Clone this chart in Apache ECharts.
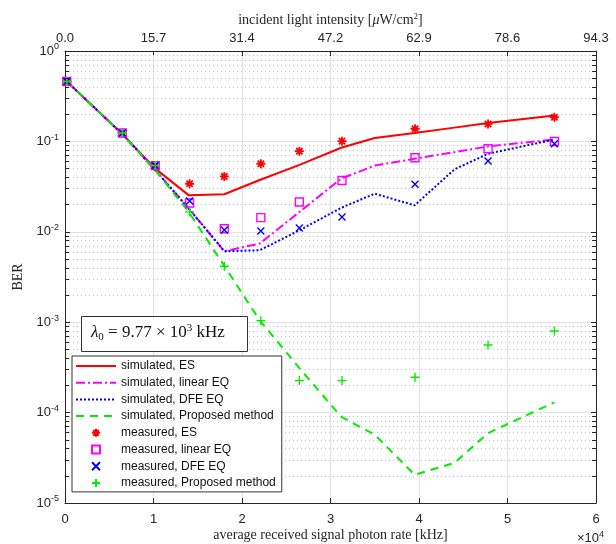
<!DOCTYPE html>
<html>
<head>
<meta charset="utf-8">
<script src="https://cdn.jsdelivr.net/npm/echarts@6/dist/echarts.min.js"></script>
<style>html,body{margin:0;padding:0;background:#fff;}#c{width:616px;height:544px;}</style>
</head>
<body>
<div id="c"></div>
<script>
// ---- data ----
var simX = [200, 6500, 10200, 14000, 18000, 22000, 26500, 31200, 35000, 39500, 44000, 47800, 55300];
var simES = [0.46, 0.12, 0.05, 0.0253, 0.026, 0.0374, 0.055, 0.085, 0.109, 0.124, 0.142, 0.16, 0.193];
var simLinear = [0.46, 0.12, 0.048, 0.018, 0.0061, 0.0074, 0.0166, 0.0387, 0.054, 0.0643, 0.076, 0.088, 0.105];
var simDFE = [0.46, 0.12, 0.048, 0.018, 0.0061, 0.00625, 0.0104, 0.0184, 0.0264, 0.0196, 0.049, 0.073, 0.105];
var simProp = [0.46, 0.12, 0.048, 0.0165, 0.0042, 0.00105, 3.1e-4, 9.0e-5, 5.7e-5, 2.05e-5, 2.77e-5, 5.93e-5, 1.30e-4];

var measX = [200, 6480, 10200, 14080, 18000, 22130, 26480, 31300, 39550, 47800, 55300];
var measES = [0.46, 0.124, 0.054, 0.034, 0.041, 0.0566, 0.078, 0.1007, 0.138, 0.156, 0.185];
var measLinear = [0.46, 0.124, 0.054, 0.0208, 0.0108, 0.01435, 0.0214, 0.037, 0.066, 0.0828, 0.0998];
var measDFE = [0.46, 0.124, 0.054, 0.0219, 0.0105, 0.0102, 0.011, 0.0146, 0.0335, 0.0606, 0.094];
var measProp = [0.46, 0.124, 0.054, 0.0166, 0.00416, 0.00104, 2.26e-4, 2.26e-4, 2.46e-4, 5.59e-4, 7.98e-4];

var bottomTickLabels = ['0', '1', '2', '3', '4', '5', '6'];
var topTickLabels = ['0.0', '15.7', '31.4', '47.2', '62.9', '78.6', '94.3'];
var minorMultipliers = [2, 3, 4, 5, 6, 7, 8, 9];
var decades = [1e-5, 1e-4, 1e-3, 1e-2, 1e-1];

function pairs(xs, ys) { return xs.map(function (x, i) { return [x, ys[i]]; }); }

var minorVals = [];
decades.forEach(function (d) { minorMultipliers.forEach(function (m) { minorVals.push(d * m); }); });

var X_MIN = 0, X_MAX = 60000;
var tickLen = (X_MAX - X_MIN) * 4 / 531;

var sans = 'Liberation Sans';
var serif = 'Liberation Serif';
var axisColor = '#262626';

var chart = echarts.init(document.getElementById('c'), null, {renderer: 'canvas'});

function lineSeries(name, data, color, type) {
  return {
    name: name, type: 'line', data: data, symbol: 'none', xAxisIndex: 0, yAxisIndex: 0,
    lineStyle: {color: color, width: 2, type: type}, itemStyle: {color: color},
    animation: false, z: 3
  };
}
function markSeries(name, data, color, symbol, size, bw) {
  return {
    name: name, type: 'scatter', data: data, symbol: symbol, symbolSize: size,
    xAxisIndex: 0, yAxisIndex: 0,
    itemStyle: {color: 'rgba(0,0,0,0)', borderColor: color, borderWidth: bw, opacity: 1},
    animation: false, z: 4
  };
}

var starPath = 'path://M5,0L5,10M0,5L10,5M1.5,1.5L8.5,8.5M8.5,1.5L1.5,8.5';
var xPath = 'path://M0,0L10,10M10,0L0,10';
var plusPath = 'path://M5,0L5,10M0,5L10,5';
var squarePath = 'path://M0,0L10,0L10,10L0,10Z';

var hideSym = {opacity: 0};

var option = {
  backgroundColor: '#fff',
  animation: false,
  grid: {left: 65, top: 51, width: 531, height: 452, show: false, containLabel: false, outerBoundsMode: 'none'},
  xAxis: [{
    type: 'value', min: X_MIN, max: X_MAX, interval: 10000, position: 'bottom',
    axisLine: {show: true, onZero: false, lineStyle: {color: axisColor, width: 1}},
    axisTick: {show: true, inside: true, length: 5, lineStyle: {color: axisColor}},
    axisLabel: {margin: 10, color: '#262626', fontFamily: sans, fontSize: 13,
      formatter: function (v) { return bottomTickLabels[Math.round(v / 10000)]; }},
    splitLine: {show: true, lineStyle: {color: '#e2e2e2', width: 1}},
    name: 'average received signal photon rate [kHz]', nameLocation: 'middle', nameGap: 25,
    nameMoveOverlap: false,
    nameTextStyle: {fontFamily: serif, fontSize: 14, color: '#262626'}
  }, {
    type: 'value', min: 0, max: 6, interval: 1, position: 'top',
    axisLine: {show: true, onZero: false, lineStyle: {color: axisColor, width: 1}},
    axisTick: {show: true, inside: true, length: 5, lineStyle: {color: axisColor}},
    axisLabel: {margin: 6, color: '#262626', fontFamily: sans, fontSize: 13,
      formatter: function (v) { return topTickLabels[Math.round(v)]; }},
    splitLine: {show: false},
    name: 'incident light intensity [{i|μ}W/cm{sup|2}]', nameLocation: 'middle', nameGap: 22,
    nameMoveOverlap: false,
    nameTextStyle: {fontFamily: serif, fontSize: 14, color: '#262626',
      rich: {i: {fontFamily: serif, fontStyle: 'italic', fontSize: 14, color: '#262626'},
             sup: {fontFamily: serif, fontSize: 9, verticalAlign: 'top', padding: [0, 0, 8, 0], color: '#262626'}}}
  }],
  yAxis: [{
    type: 'log', logBase: 10, min: 1e-5, max: 1, position: 'left',
    axisLine: {show: true, onZero: false, lineStyle: {color: axisColor, width: 1}},
    axisTick: {show: true, inside: true, length: 5, lineStyle: {color: axisColor}},
    minorTick: {show: false},
    axisLabel: {margin: 6, color: '#262626', fontFamily: sans, fontSize: 13,
      formatter: function (v) { return '10{s|' + Math.round(Math.log10(v)) + '}'; },
      rich: {s: {fontSize: 9, fontFamily: sans, color: '#262626', padding: [0, 0, 8, 0]}}},
    splitLine: {show: true, lineStyle: {color: '#e2e2e2', width: 1}},
    name: 'BER', nameLocation: 'middle', nameGap: 40, nameRotate: 90,
    nameMoveOverlap: false,
    nameTextStyle: {fontFamily: serif, fontSize: 14, color: '#262626'}
  }, {
    type: 'log', logBase: 10, min: 1e-5, max: 1, position: 'right',
    axisLine: {show: true, onZero: false, lineStyle: {color: axisColor, width: 1}},
    axisTick: {show: true, inside: true, length: 5, lineStyle: {color: axisColor}},
    axisLabel: {show: false}, splitLine: {show: false}
  }],
  legend: {
    orient: 'vertical', left: 72, top: 356, padding: [4, 6, 3, 3],
    itemWidth: 40, itemHeight: 8, itemGap: 4.7,
    backgroundColor: '#fff', borderColor: '#333', borderWidth: 1,
    textStyle: {fontFamily: sans, fontSize: 12, color: '#111', lineHeight: 12},
    data: [
      {name: 'simulated, ES', itemStyle: hideSym},
      {name: 'simulated, linear EQ', itemStyle: hideSym},
      {name: 'simulated, DFE EQ', itemStyle: hideSym},
      {name: 'simulated, Proposed method', itemStyle: hideSym},
      'measured, ES', 'measured, linear EQ', 'measured, DFE EQ', 'measured, Proposed method']
  },
  graphic: [{
    type: 'rect', left: 81, top: 316, shape: {width: 166, height: 35},
    style: {fill: '#fff', stroke: '#333', lineWidth: 1}, z: 10
  }, {
    type: 'text', left: 91, top: 323, z: 11,
    style: {
      text: '{i|λ}{sub|0} = 9.77 × 10{sup|3} kHz',
      fontFamily: serif, fontSize: 17, fill: '#111',
      rich: {i: {fontFamily: serif, fontStyle: 'italic', fontSize: 17},
             sub: {fontFamily: serif, fontSize: 11, padding: [8, 0, 0, 0]},
             sup: {fontFamily: serif, fontSize: 11, padding: [0, 0, 9, 0]}}
    }
  }, {
    type: 'text', left: 577, top: 530, z: 11,
    style: {text: '×10{sup|4}', fontFamily: sans, fontSize: 13, fill: '#262626',
      rich: {sup: {fontFamily: sans, fontSize: 9, padding: [0, 0, 8, 0]}}}
  }],
  series: [
    {
      name: 'minorgrid', type: 'lines', coordinateSystem: 'cartesian2d', xAxisIndex: 0, yAxisIndex: 0,
      silent: true, z: 1, animation: false,
      lineStyle: {color: '#c4c4c4', width: 1, type: [1, 3], opacity: 1},
      data: minorVals.map(function (v) { return {coords: [[X_MIN, v], [X_MAX, v]]}; })
    },
    {
      name: 'minorticks', type: 'lines', coordinateSystem: 'cartesian2d', xAxisIndex: 0, yAxisIndex: 0,
      silent: true, z: 5, animation: false,
      lineStyle: {color: axisColor, width: 1, type: 'solid', opacity: 1},
      data: minorVals.map(function (v) { return {coords: [[X_MIN, v], [X_MIN + tickLen, v]]}; })
        .concat(minorVals.map(function (v) { return {coords: [[X_MAX - tickLen, v], [X_MAX, v]]}; }))
    },
    lineSeries('simulated, ES', pairs(simX, simES), '#ff0000', 'solid'),
    lineSeries('simulated, linear EQ', pairs(simX, simLinear), '#ff00ff', [9, 3, 2, 3]),
    lineSeries('simulated, DFE EQ', pairs(simX, simDFE), '#0000ff', [2, 2]),
    lineSeries('simulated, Proposed method', pairs(simX, simProp), '#00ee00', [8, 6]),
    markSeries('measured, ES', pairs(measX, measES), '#ff0000', starPath, 9, 1.8),
    markSeries('measured, linear EQ', pairs(measX, measLinear), '#ff00ff', squarePath, 8, 1.4),
    markSeries('measured, DFE EQ', pairs(measX, measDFE), '#0000ff', xPath, 7, 1.4),
    markSeries('measured, Proposed method', pairs(measX, measProp), '#00ee00', plusPath, 9, 1.4)
  ]
};
chart.setOption(option);
</script>
</body>
</html>
